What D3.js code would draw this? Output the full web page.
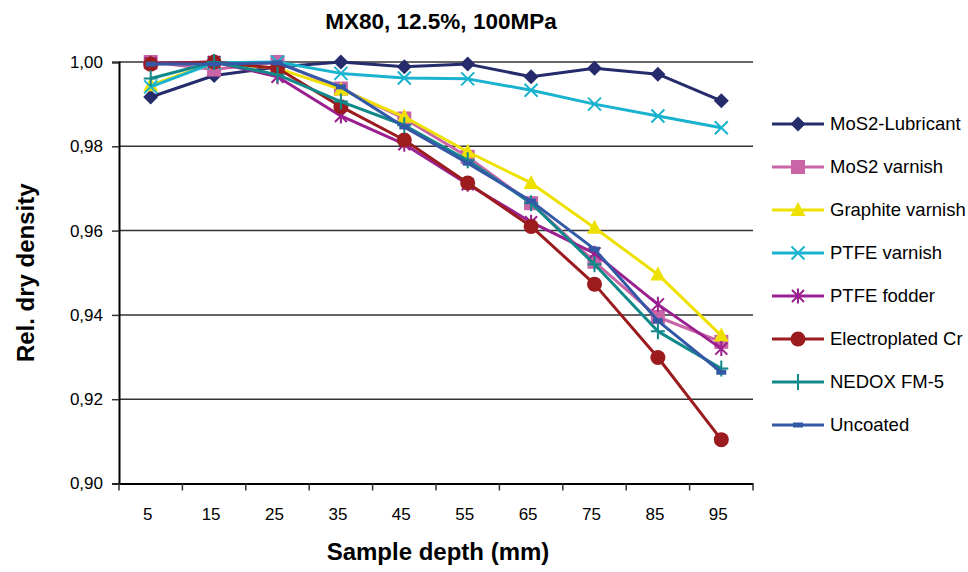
<!DOCTYPE html>
<html>
<head>
<meta charset="utf-8">
<script src="https://cdn.jsdelivr.net/npm/d3@7"></script>
<style>
  html, body { margin: 0; padding: 0; background: #fff; }
  svg { display: block; font-family: "Liberation Sans", Arial, sans-serif; }
</style>
</head>
<body>
<svg id="chart" width="968" height="572"></svg>
<script>
// ---- data ----
const depths = [5, 15, 25, 35, 45, 55, 65, 75, 85, 95];
const yTicks = [0.90, 0.92, 0.94, 0.96, 0.98, 1.00];
const seriesNames = ["MoS2-Lubricant", "MoS2 varnish", "Graphite varnish", "PTFE varnish",
                     "PTFE fodder", "Electroplated Cr", "NEDOX FM-5", "Uncoated"];
const mos2Lubricant   = [0.9917, 0.9968, 0.9988, 1.0000, 0.9989, 0.9995, 0.9965, 0.9985, 0.9971, 0.9908];
const mos2Varnish     = [1.0000, 0.9982, 1.0000, 0.9937, 0.9866, 0.9775, 0.9665, 0.9526, 0.9395, 0.9336];
const graphiteVarnish = [0.9945, 0.9998, 0.9985, 0.9935, 0.9870, 0.9787, 0.9713, 0.9607, 0.9496, 0.9351];
const ptfeVarnish     = [0.9941, 0.9998, 1.0000, 0.9973, 0.9962, 0.9960, 0.9933, 0.9900, 0.9872, 0.9844];
const ptfeFodder      = [0.9997, 1.0000, 0.9965, 0.9872, 0.9805, 0.9710, 0.9620, 0.9546, 0.9425, 0.9320];
const electroCr       = [0.9995, 1.0000, 0.9985, 0.9894, 0.9815, 0.9713, 0.9610, 0.9473, 0.9299, 0.9104];
const nedox           = [0.9961, 1.0000, 0.9970, 0.9906, 0.9850, 0.9767, 0.9665, 0.9520, 0.9361, 0.9273];
const uncoated        = [0.9995, 0.9995, 0.9998, 0.9941, 0.9846, 0.9760, 0.9670, 0.9556, 0.9386, 0.9264];

const seriesValues = [mos2Lubricant, mos2Varnish, graphiteVarnish, ptfeVarnish,
                      ptfeFodder, electroCr, nedox, uncoated];
const seriesColors = ["#262C6B", "#C964A6", "#EEE100", "#19B2CF",
                      "#9A208F", "#9B1B1E", "#11898A", "#3359A6"];
const markerTypes = ["diamond", "square", "triangle", "x", "star", "circle", "plus", "dash"];

// ---- layout ----
const svg = d3.select("#chart");
const plot = { left: 119, right: 753, top: 62, bottom: 483.5 };

const x = d3.scaleBand().domain(depths).range([plot.left, plot.right]).padding(0);
const xc = d => x(d) + x.bandwidth() / 2;
const y = d3.scaleLinear().domain([0.90, 1.00]).range([plot.bottom, plot.top]);

// title
svg.append("text")
  .attr("x", 441).attr("y", 29)
  .attr("text-anchor", "middle")
  .attr("font-size", 22.5).attr("font-weight", "bold")
  .text("MX80, 12.5%, 100MPa");

// gridlines
svg.append("g").selectAll("line").data(yTicks.filter(t => t > 0.9)).join("line")
  .attr("x1", plot.left).attr("x2", plot.right)
  .attr("y1", d => y(d)).attr("y2", d => y(d))
  .attr("stroke", "#333").attr("stroke-width", 1.5);

// y axis
const yAxis = d3.axisLeft(y).tickValues(yTicks).tickSize(7).tickPadding(9)
  .tickFormat(d => d3.format(".2f")(d).replace(".", ","));
const gy = svg.append("g").attr("transform", `translate(${plot.left},0)`).call(yAxis);
gy.select(".domain").attr("stroke", "#000").attr("stroke-width", 2);
gy.selectAll(".tick line").attr("stroke", "#333").attr("stroke-width", 1.5);
gy.selectAll(".tick text").attr("font-size", 17).attr("fill", "#000")
  .attr("font-family", "'Liberation Sans', Arial, sans-serif");

// x axis
const xAxis = d3.axisBottom(x).tickSize(0).tickPadding(24);
const gx = svg.append("g").attr("transform", `translate(0,${plot.bottom})`).call(xAxis);
gx.select(".domain").attr("stroke", "#000").attr("stroke-width", 2);
gx.selectAll(".tick text").attr("font-size", 17).attr("fill", "#000").attr("dx", -3)
  .attr("font-family", "'Liberation Sans', Arial, sans-serif");
// tick marks at category boundaries
gx.append("g").selectAll("line").data(depths).join("line")
  .attr("x1", d => x(d)).attr("x2", d => x(d))
  .attr("y1", 0).attr("y2", 7)
  .attr("stroke", "#333").attr("stroke-width", 1.5);
gx.append("line").attr("x1", plot.right).attr("x2", plot.right)
  .attr("y1", 0).attr("y2", 7).attr("stroke", "#333").attr("stroke-width", 1.5);

// axis titles
svg.append("text")
  .attr("x", 438).attr("y", 560)
  .attr("text-anchor", "middle")
  .attr("font-size", 24).attr("font-weight", "bold")
  .text("Sample depth (mm)");
svg.append("text")
  .attr("transform", `translate(34,${(plot.top + plot.bottom) / 2}) rotate(-90)`)
  .attr("text-anchor", "middle")
  .attr("font-size", 24).attr("font-weight", "bold")
  .text("Rel. dry density");

// markers
function drawMarker(g, type, color) {
  switch (type) {
    case "diamond":
      g.append("path").attr("d", "M0,-7.5L7.5,0L0,7.5L-7.5,0Z").attr("fill", color); break;
    case "square":
      g.append("rect").attr("x", -7).attr("y", -7).attr("width", 14).attr("height", 14).attr("fill", color); break;
    case "triangle":
      g.append("path").attr("d", "M0,-8L7.5,6L-7.5,6Z").attr("fill", color); break;
    case "circle":
      g.append("circle").attr("r", 7.5).attr("fill", color); break;
    case "x":
      g.append("path").attr("d", "M-6.5,-6.5L6.5,6.5M-6.5,6.5L6.5,-6.5")
        .attr("stroke", color).attr("stroke-width", 2).attr("fill", "none"); break;
    case "star":
      g.append("path").attr("d", "M-6,-6L6,6M-6,6L6,-6M0,-7.5L0,7.5")
        .attr("stroke", color).attr("stroke-width", 2).attr("fill", "none"); break;
    case "plus":
      g.append("path").attr("d", "M0,-8L0,8M-7,0L7,0")
        .attr("stroke", color).attr("stroke-width", 2).attr("fill", "none"); break;
    case "dash":
      g.append("rect").attr("x", -5).attr("y", -2.5).attr("width", 10).attr("height", 5)
        .attr("fill", color); break;
  }
}

const line = d3.line().x(d => xc(d.depth)).y(d => y(d.value));

seriesNames.forEach((name, i) => {
  const pts = depths.map((d, j) => ({ depth: d, value: seriesValues[i][j] }));
  const g = svg.append("g");
  g.append("path").datum(pts).attr("d", line)
    .attr("fill", "none").attr("stroke", seriesColors[i]).attr("stroke-width", 3)
    .attr("stroke-linejoin", "round");
  pts.forEach(p => {
    const mg = g.append("g").attr("transform", `translate(${xc(p.depth)},${y(p.value)})`);
    drawMarker(mg, markerTypes[i], seriesColors[i]);
  });
});

// legend
const legend = svg.append("g");
seriesNames.forEach((name, i) => {
  const ly = 124 + i * 43;
  const lg = legend.append("g").attr("transform", `translate(0,${ly})`);
  lg.append("line").attr("x1", 772).attr("x2", 824).attr("y1", 0).attr("y2", 0)
    .attr("stroke", seriesColors[i]).attr("stroke-width", 3);
  const mg = lg.append("g").attr("transform", "translate(798,0)");
  drawMarker(mg, markerTypes[i], seriesColors[i]);
  lg.append("text").attr("x", 830).attr("y", 0).attr("dy", "0.35em")
    .attr("font-size", 18.5).attr("fill", "#000").text(name);
});
</script>
</body>
</html>
